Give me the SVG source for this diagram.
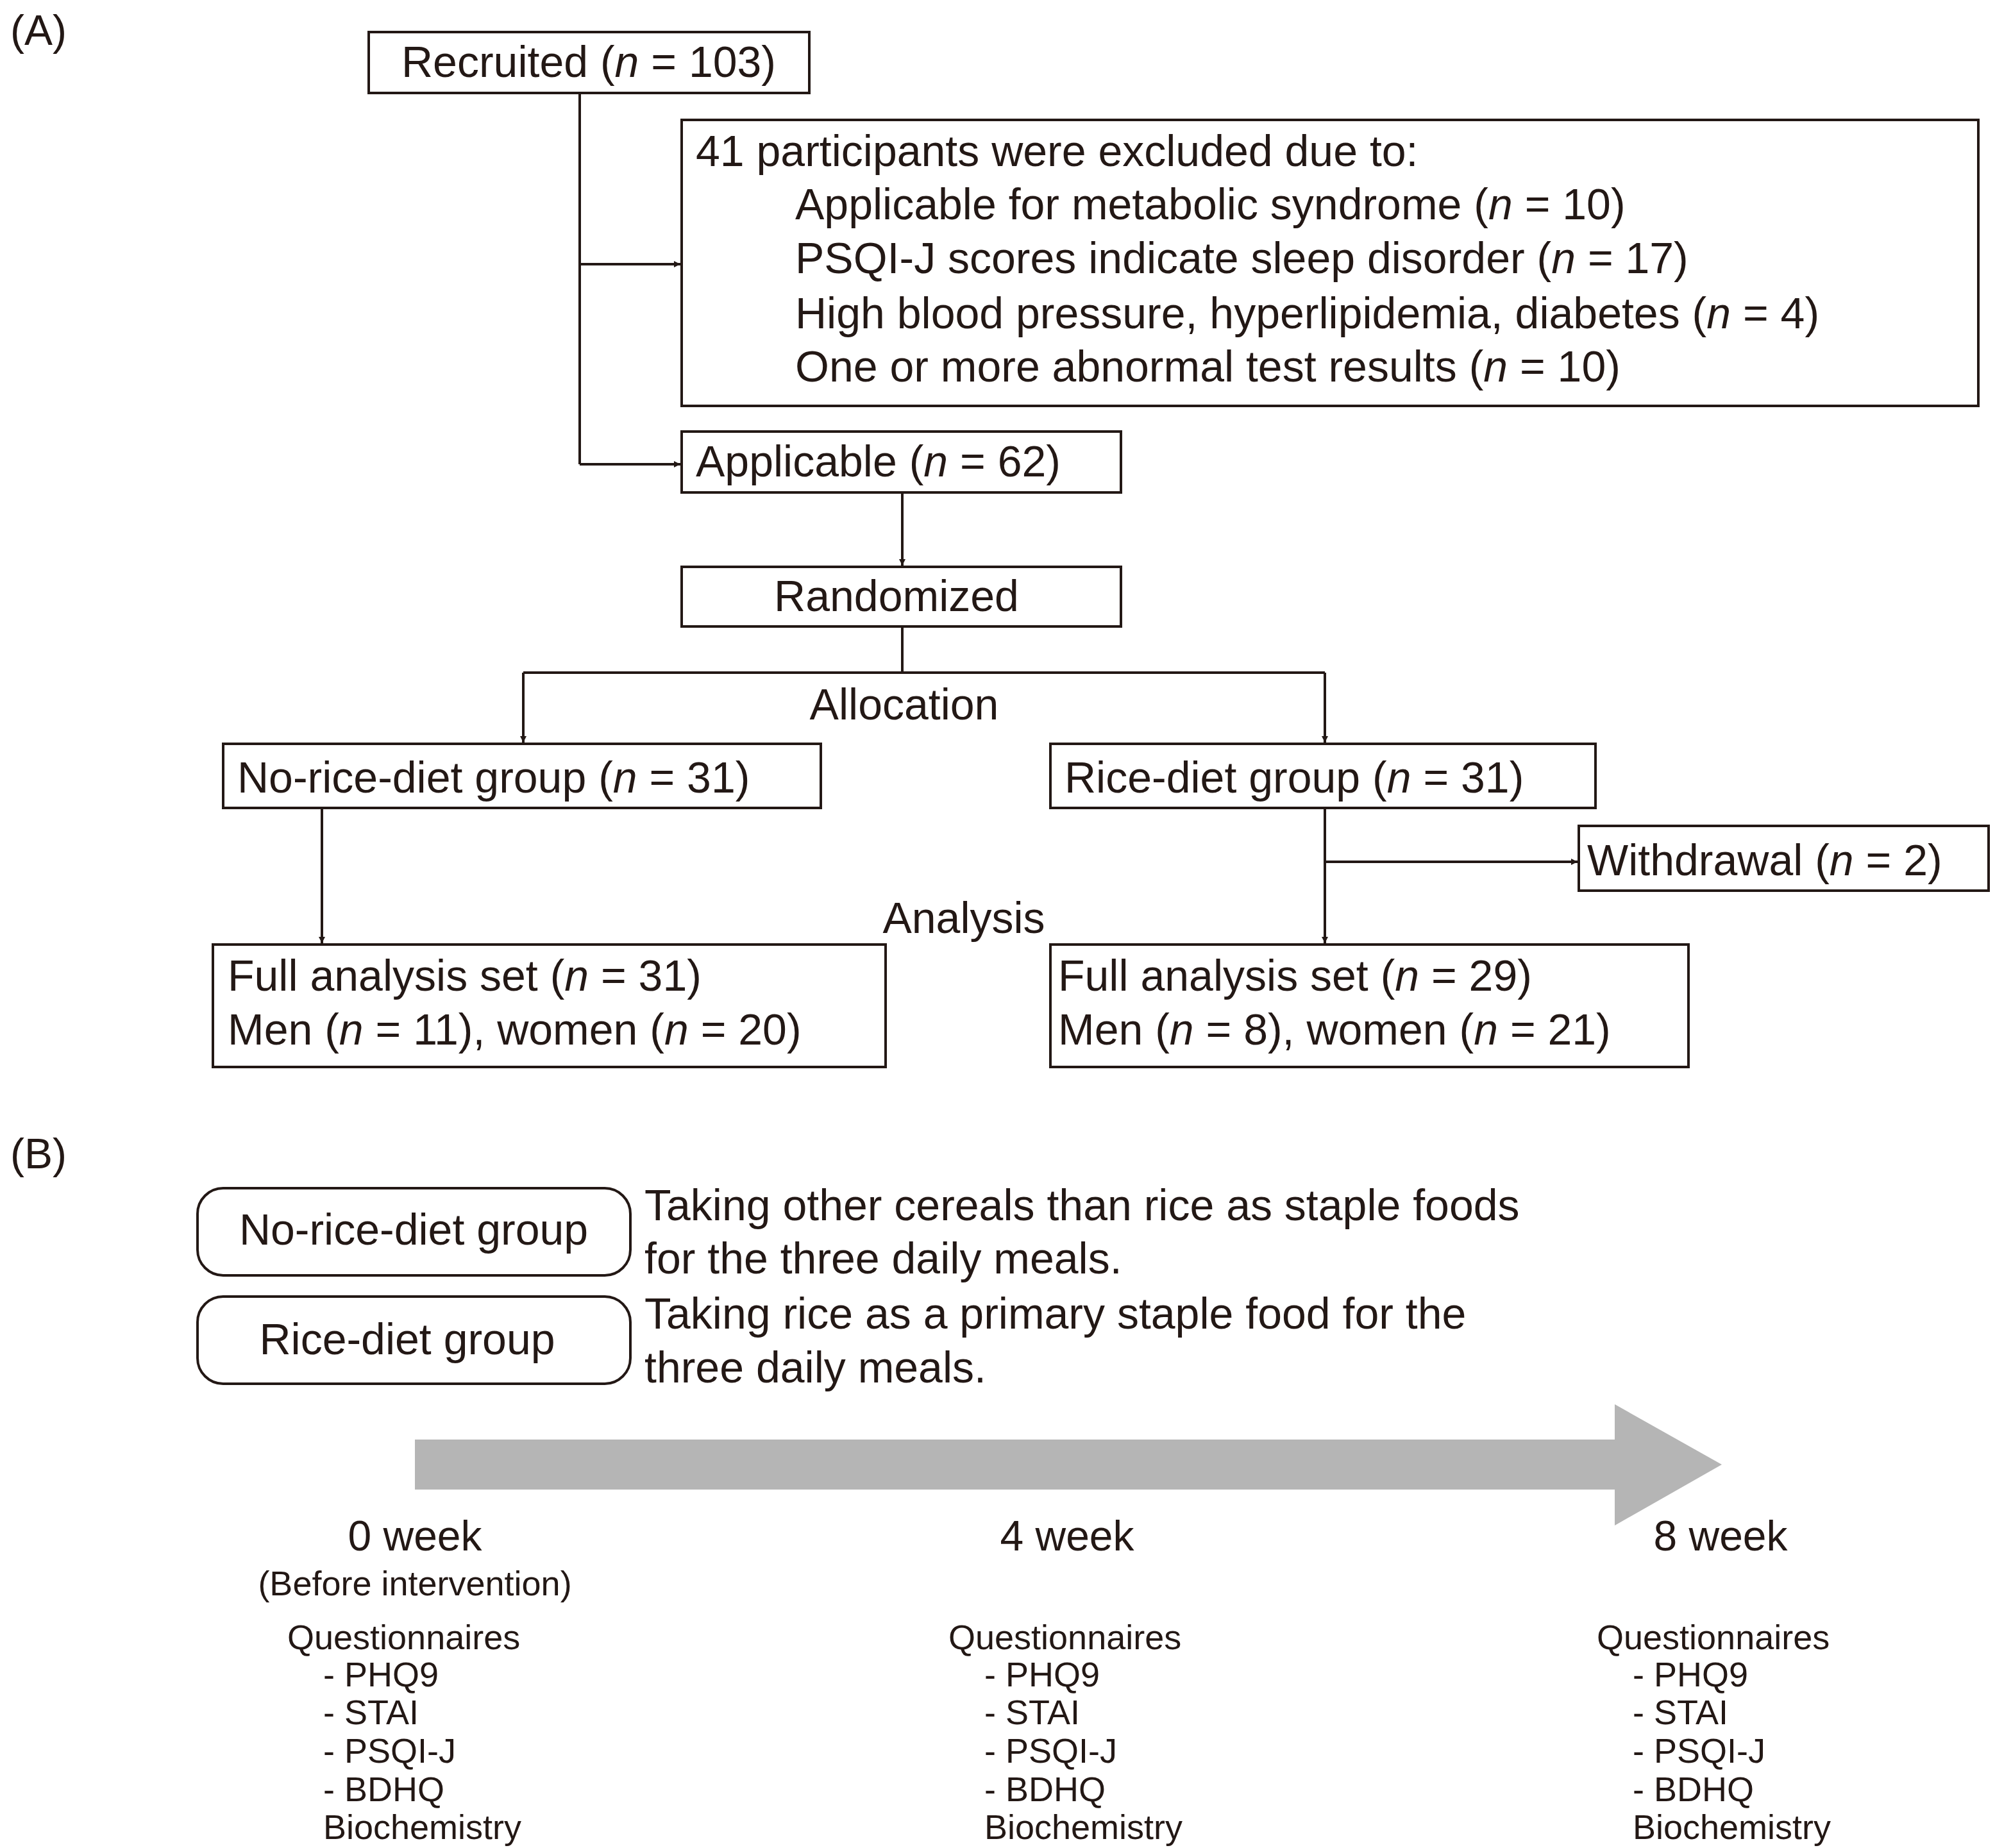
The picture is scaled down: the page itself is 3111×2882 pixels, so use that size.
<svg xmlns="http://www.w3.org/2000/svg" width="3111" height="2882" viewBox="0 0 3111 2882">
<style>
text{font-family:"Liberation Sans",Arial,sans-serif;fill:#231815}
.t{font-size:68px}
.w{font-size:66px}
.s{font-size:54px}
.box{fill:#fff;stroke:#231815;stroke-width:4}
.ln{fill:none;stroke:#231815;stroke-width:4}
</style>
<defs>
<marker id="ah" markerWidth="10" markerHeight="10" refX="10" refY="5" orient="auto" markerUnits="userSpaceOnUse" viewBox="0 0 10 10">
<path d="M0,0 L10,5 L0,10 z" fill="#231815"/>
</marker>
</defs>
<rect width="3111" height="2882" fill="#fff"/>
<text class="w" x="16" y="70">(A)</text>
<text class="w" x="16" y="1822">(B)</text>
<g id="connectors">
<path class="ln" d="M904,145 V724"/>
<path class="ln" d="M904,412 H1061" marker-end="url(#ah)"/>
<path class="ln" d="M904,724 H1061" marker-end="url(#ah)"/>
<path class="ln" d="M1407,768 V882" marker-end="url(#ah)"/>
<path class="ln" d="M1407,977 V1049 M816,1049 H2066"/>
<path class="ln" d="M816,1049 V1158" marker-end="url(#ah)"/>
<path class="ln" d="M2066,1049 V1158" marker-end="url(#ah)"/>
<path class="ln" d="M502,1260 V1471" marker-end="url(#ah)"/>
<path class="ln" d="M2066,1260 V1471" marker-end="url(#ah)"/>
<path class="ln" d="M2066,1344 H2460" marker-end="url(#ah)"/>
</g>
<defs><style>marker path{}</style></defs>
<g id="recruited"><rect class="box" x="575" y="50" width="687" height="95"/><text class="t" x="918" y="120" text-anchor="middle">Recruited (<tspan font-style="italic">n</tspan> = 103)</text></g>
<g id="excluded"><rect class="box" x="1063" y="187" width="2022" height="446"/>
<text class="t" x="1085" y="259">41 participants were excluded due to:</text>
<text class="t" x="1240" y="342">Applicable for metabolic syndrome (<tspan font-style="italic">n</tspan> = 10)</text>
<text class="t" x="1240" y="426">PSQI-J scores indicate sleep disorder (<tspan font-style="italic">n</tspan> = 17)</text>
<text class="t" x="1240" y="512">High blood pressure, hyperlipidemia, diabetes (<tspan font-style="italic">n</tspan> = 4)</text>
<text class="t" x="1240" y="595">One or more abnormal test results (<tspan font-style="italic">n</tspan> = 10)</text></g>
<g id="applicable"><rect class="box" x="1063" y="673" width="685" height="95"/><text class="t" x="1085" y="743">Applicable (<tspan font-style="italic">n</tspan> = 62)</text></g>
<g id="randomized"><rect class="box" x="1063" y="884" width="685" height="93"/><text class="t" x="1398" y="953" text-anchor="middle">Randomized</text></g>
<text class="t" x="1410" y="1122" text-anchor="middle">Allocation</text>
<g id="norice"><rect class="box" x="348" y="1160" width="932" height="100"/><text class="t" x="370" y="1236">No-rice-diet group (<tspan font-style="italic">n</tspan> = 31)</text></g>
<g id="rice"><rect class="box" x="1638" y="1160" width="850" height="100"/><text class="t" x="1660" y="1236">Rice-diet group (<tspan font-style="italic">n</tspan> = 31)</text></g>
<g id="withdrawal"><rect class="box" x="2462" y="1288" width="639" height="101"/><text class="t" x="2475" y="1365">Withdrawal (<tspan font-style="italic">n</tspan> = 2)</text></g>
<text class="t" x="1503" y="1455" text-anchor="middle">Analysis</text>
<g id="fasL"><rect class="box" x="332" y="1473" width="1049" height="191"/>
<text class="t" x="355" y="1545">Full analysis set (<tspan font-style="italic">n</tspan> = 31)</text>
<text class="t" x="355" y="1629">Men (<tspan font-style="italic">n</tspan> = 11), women (<tspan font-style="italic">n</tspan> = 20)</text></g>
<g id="fasR"><rect class="box" x="1638" y="1473" width="995" height="191"/>
<text class="t" x="1650" y="1545">Full analysis set (<tspan font-style="italic">n</tspan> = 29)</text>
<text class="t" x="1650" y="1629">Men (<tspan font-style="italic">n</tspan> = 8), women (<tspan font-style="italic">n</tspan> = 21)</text></g>
<g id="legendNo"><rect class="box" x="308" y="1853" width="675" height="136" rx="40"/><text class="t" x="645" y="1941" text-anchor="middle">No-rice-diet group</text></g>
<g id="legendRice"><rect class="box" x="308" y="2022" width="675" height="136" rx="40"/><text class="t" x="635" y="2112" text-anchor="middle">Rice-diet group</text></g>
<text class="t" x="1005" y="1903">Taking other cereals than rice as staple foods</text>
<text class="t" x="1005" y="1986">for the three daily meals.</text>
<text class="t" x="1005" y="2072">Taking rice as a primary staple food for the</text>
<text class="t" x="1005" y="2156">three daily meals.</text>
<g id="timeline"><path d="M647,2245 H2518 V2190 L2685,2284 L2518,2379 V2323 H647 z" fill="#b5b5b5"/></g>
<g id="w0"><text class="w" x="647" y="2418" text-anchor="middle">0 week</text>
<text class="s" x="647" y="2488" text-anchor="middle">(Before intervention)</text>
<text class="s" x="448" y="2572">Questionnaires</text>
<text class="s" x="504" y="2630">- PHQ9</text><text class="s" x="504" y="2689">- STAI</text><text class="s" x="504" y="2749">- PSQI-J</text><text class="s" x="504" y="2809">- BDHQ</text><text class="s" x="504" y="2868">Biochemistry</text></g>
<g id="w4"><text class="w" x="1664" y="2418" text-anchor="middle">4 week</text>
<text class="s" x="1479" y="2572">Questionnaires</text>
<text class="s" x="1535" y="2630">- PHQ9</text><text class="s" x="1535" y="2689">- STAI</text><text class="s" x="1535" y="2749">- PSQI-J</text><text class="s" x="1535" y="2809">- BDHQ</text><text class="s" x="1535" y="2868">Biochemistry</text></g>
<g id="w8"><text class="w" x="2683" y="2418" text-anchor="middle">8 week</text>
<text class="s" x="2490" y="2572">Questionnaires</text>
<text class="s" x="2546" y="2630">- PHQ9</text><text class="s" x="2546" y="2689">- STAI</text><text class="s" x="2546" y="2749">- PSQI-J</text><text class="s" x="2546" y="2809">- BDHQ</text><text class="s" x="2546" y="2868">Biochemistry</text></g>
</svg>
